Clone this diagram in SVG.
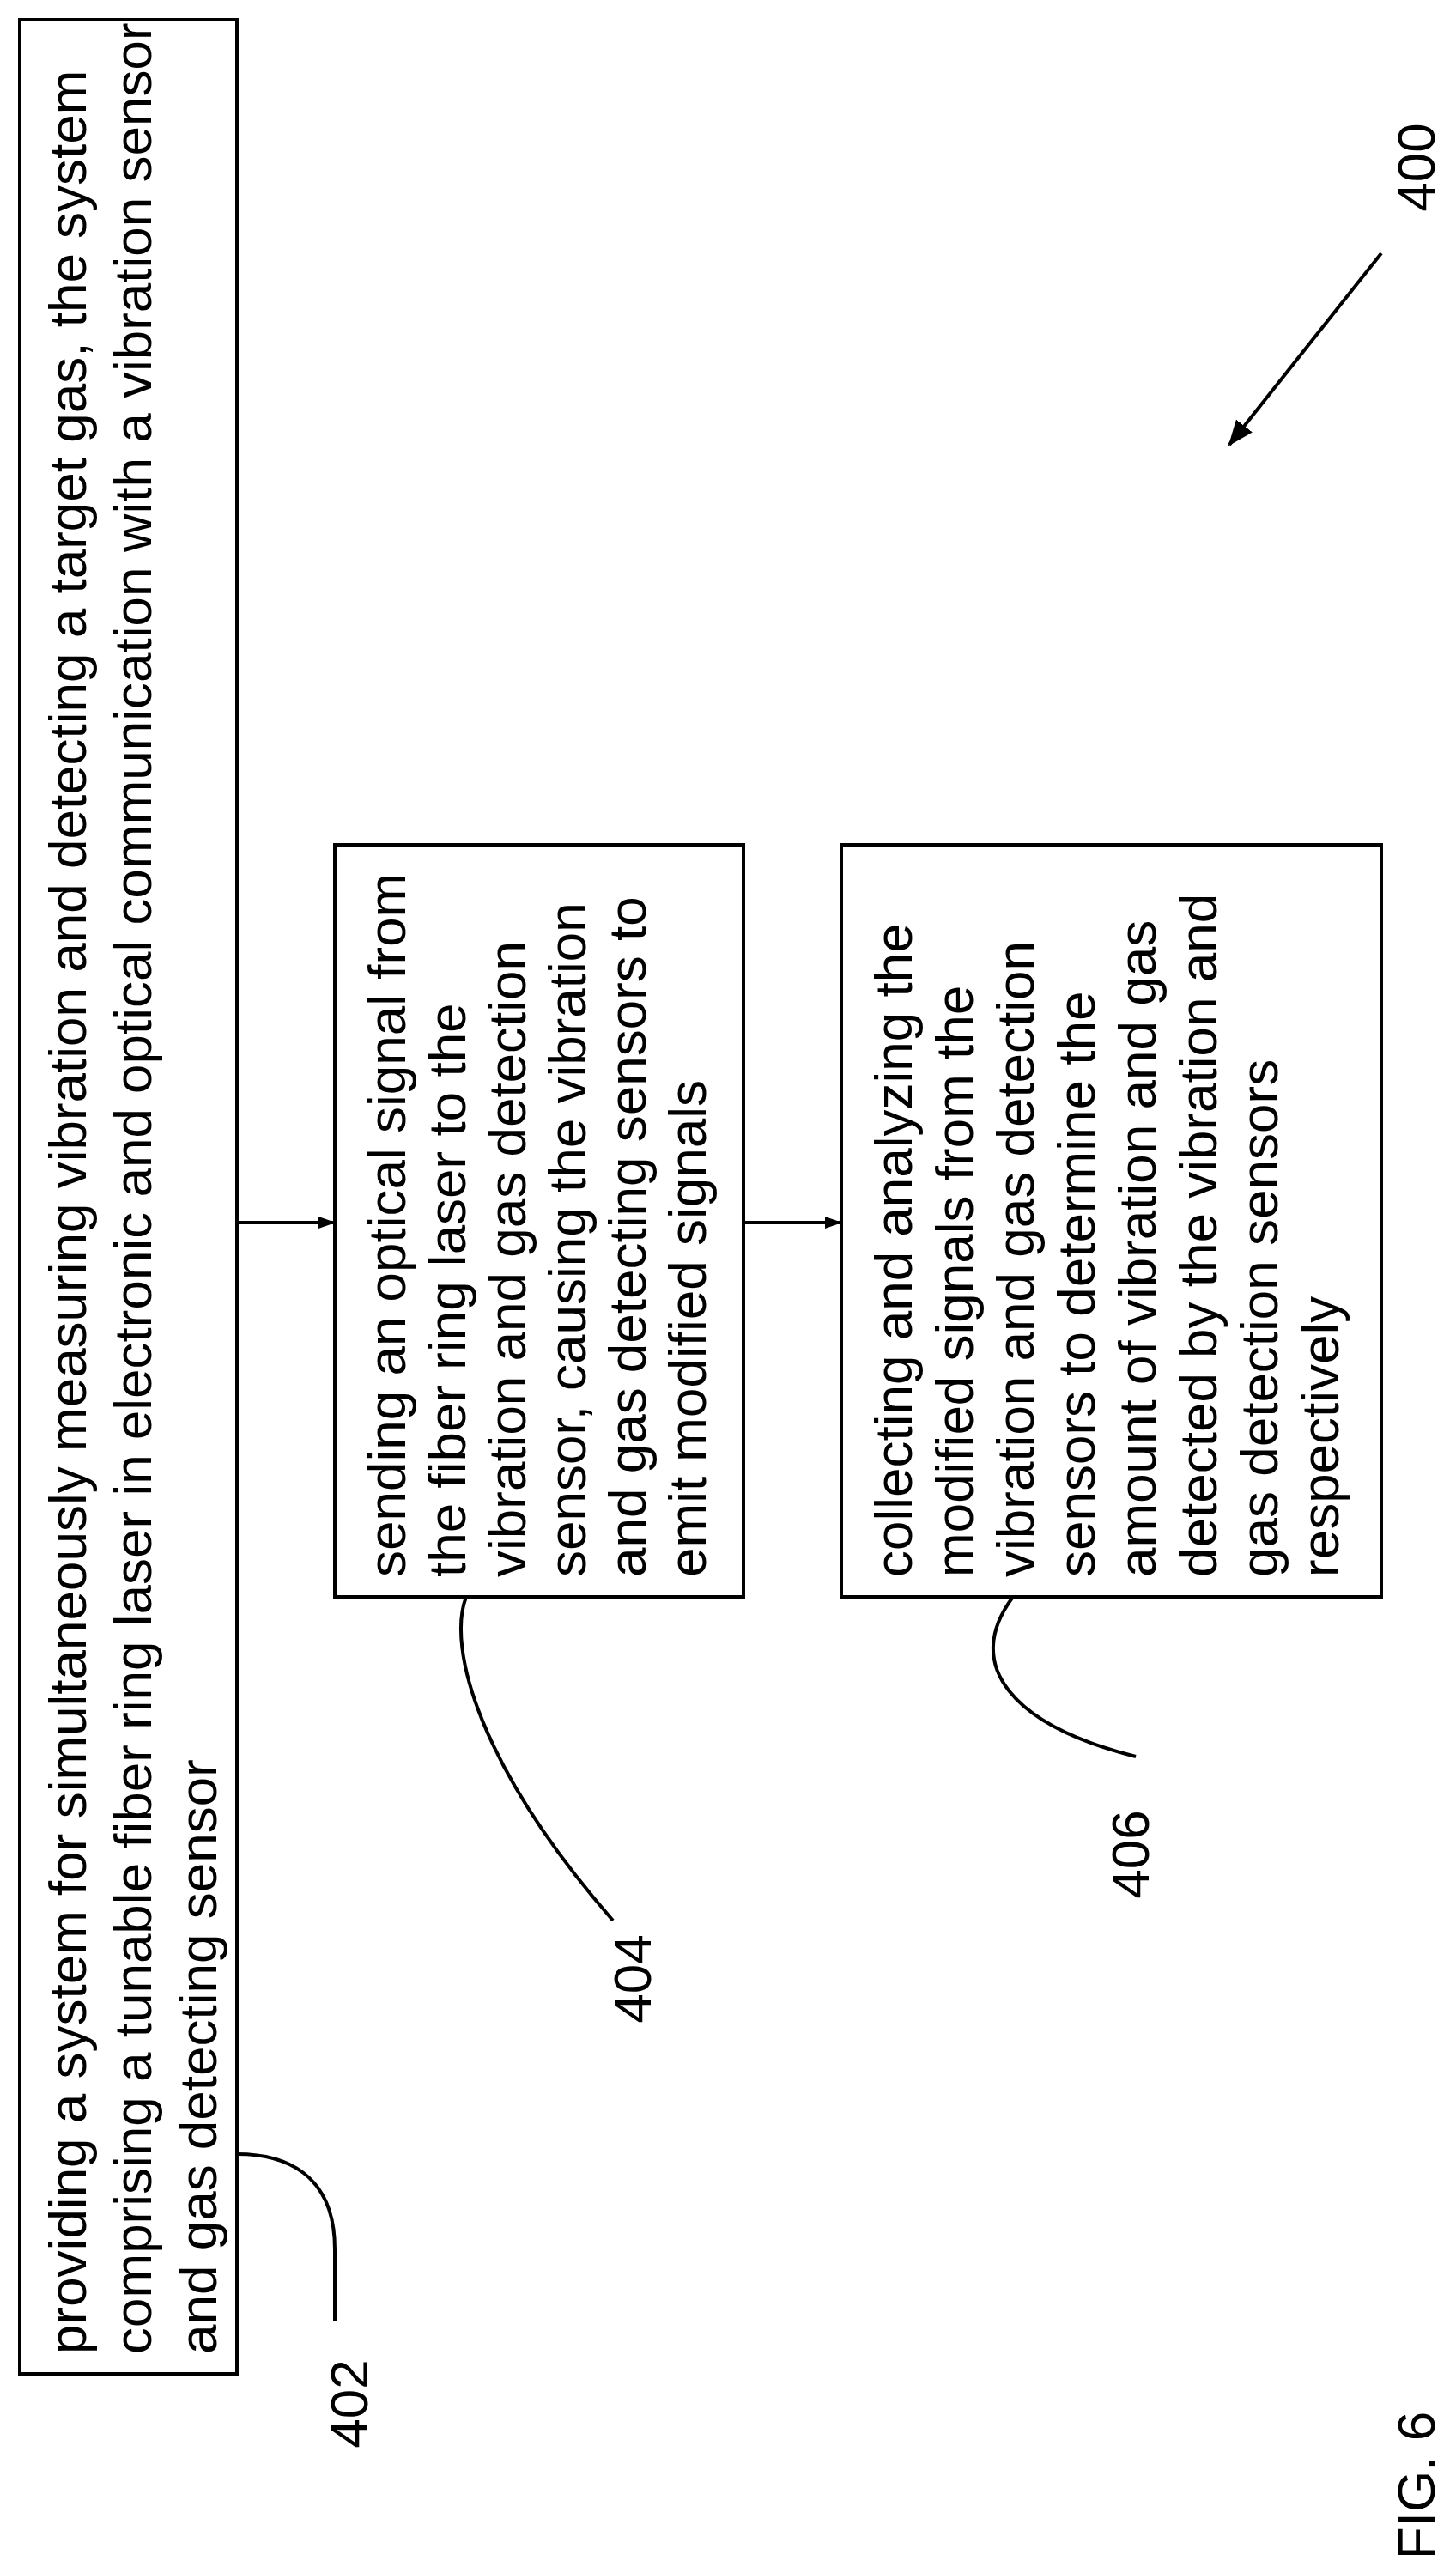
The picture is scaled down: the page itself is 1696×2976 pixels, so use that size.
<svg xmlns="http://www.w3.org/2000/svg" width="1696" height="2976" viewBox="0 0 1696 2976">
<style>
.b{fill:#fff;stroke:#000;stroke-width:4}
.t{font-family:"Liberation Sans",Arial,sans-serif;font-size:62px;fill:#000}
.c{fill:none;stroke:#000;stroke-width:4}
</style>
<defs><marker id="a" markerWidth="20" markerHeight="20" refX="19" refY="10" orient="auto" markerUnits="userSpaceOnUse" viewBox="0 0 20 20"><path d="M0,3 L20,10 L0,17 z" fill="#000"/></marker>
<marker id="a2" markerWidth="30" markerHeight="30" refX="28" refY="15" orient="auto" markerUnits="userSpaceOnUse" viewBox="0 0 30 30"><path d="M0,3 L30,15 L0,27 z" fill="#000"/></marker></defs>
<rect width="1696" height="2976" fill="#fff"/>
<g id="n402"><rect class="b" x="23" y="23" width="253" height="2742"/>
<text class="t" transform="translate(100,2742) rotate(-90)">providing a system for simultaneously measuring vibration and detecting a target gas, the system</text>
<text class="t" transform="translate(176,2742) rotate(-90)">comprising a tunable fiber ring laser in electronic and optical communication with a vibration sensor</text>
<text class="t" transform="translate(252,2742) rotate(-90)">and gas detecting sensor</text></g>
<g id="n404"><rect class="b" x="390" y="984" width="476" height="876"/>
<text class="t" transform="translate(472,1837) rotate(-90)">sending an optical signal from</text>
<text class="t" transform="translate(542,1837) rotate(-90)">the fiber ring laser to the</text>
<text class="t" transform="translate(612,1837) rotate(-90)">vibration and gas detection</text>
<text class="t" transform="translate(682,1837) rotate(-90)">sensor, causing the vibration</text>
<text class="t" transform="translate(752,1837) rotate(-90)">and gas detecting sensors to</text>
<text class="t" transform="translate(822,1837) rotate(-90)">emit modified signals</text></g>
<g id="n406"><rect class="b" x="980" y="984" width="629" height="876"/>
<text class="t" transform="translate(1062,1837) rotate(-90)">collecting and analyzing the</text>
<text class="t" transform="translate(1133,1837) rotate(-90)">modified signals from the</text>
<text class="t" transform="translate(1204,1837) rotate(-90)">vibration and gas detection</text>
<text class="t" transform="translate(1275,1837) rotate(-90)">sensors to determine the</text>
<text class="t" transform="translate(1346,1837) rotate(-90)">amount of vibration and gas</text>
<text class="t" transform="translate(1417,1837) rotate(-90)">detected by the vibration and</text>
<text class="t" transform="translate(1488,1837) rotate(-90)">gas detection sensors</text>
<text class="t" transform="translate(1559,1837) rotate(-90)">respectively</text></g>
<g id="connectors">
<line class="c" x1="276" y1="1424" x2="390" y2="1424" marker-end="url(#a)"/>
<line class="c" x1="866" y1="1424" x2="980" y2="1424" marker-end="url(#a)"/>
<path class="c" d="M276,2509 C330,2509 390,2530 390,2620 L390,2703"/>
<path class="c" d="M543,1860 C520,1920 560,2060 714,2237"/>
<path class="c" d="M1180,1860 C1120,1940 1180,2010 1323,2046"/>
<line class="c" x1="1609" y1="295" x2="1432" y2="518" marker-end="url(#a2)"/>
</g>
<g id="labels">
<text class="t" text-anchor="middle" transform="translate(428,2800) rotate(-90)">402</text>
<text class="t" text-anchor="middle" transform="translate(758,2305) rotate(-90)">404</text>
<text class="t" text-anchor="middle" transform="translate(1338,2160) rotate(-90)">406</text>
<text class="t" text-anchor="middle" transform="translate(1671,195) rotate(-90)">400</text>
<text class="t" text-anchor="middle" transform="translate(1671,2895) rotate(-90)">FIG. 6</text>
</g>
</svg>
